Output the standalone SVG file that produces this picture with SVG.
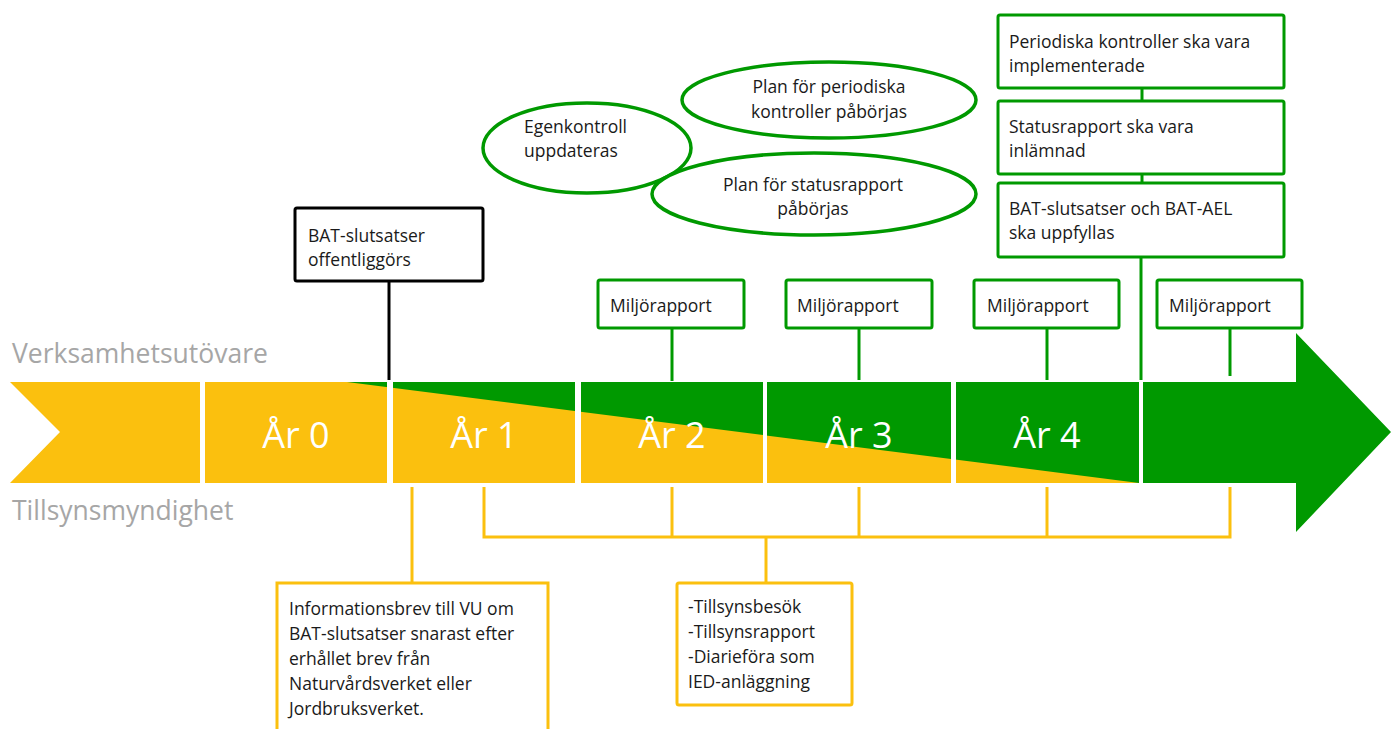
<svg xmlns="http://www.w3.org/2000/svg" width="1391" height="729" viewBox="0 0 1391 729">
<style>
text{font-family:"Open Sans","Noto Sans","Liberation Sans",sans-serif;font-size:17.5px;fill:#1a1a1a}
.yr{font-size:36px;fill:#ffffff;text-anchor:middle}
.side{font-size:26.5px;fill:#a6a6a6}
.gbox{fill:#ffffff;stroke:#009900;stroke-width:3}
.ybox{fill:#ffffff;stroke:#fbc00e;stroke-width:3}
.kbox{fill:#ffffff;stroke:#000000;stroke-width:3}
.gl{stroke:#009900;stroke-width:3;fill:none}
.yl{stroke:#fbc00e;stroke-width:3;fill:none}
.kl{stroke:#000000;stroke-width:3;fill:none}
.ell{fill:#ffffff;stroke:#009900;stroke-width:3.5}
.mid{text-anchor:middle}
</style>
<defs>
<clipPath id="barclip">
<rect x="205" y="382" width="182" height="101"/>
<rect x="393" y="382" width="182" height="101"/>
<rect x="581" y="382" width="182" height="101"/>
<rect x="767" y="382" width="184" height="101"/>
<rect x="956" y="382" width="183" height="101"/>
</clipPath>
</defs>
<g id="timeline">
<polygon points="10,382 200,382 200,483 10,483 60,432" fill="#fbc00e"/>
<g clip-path="url(#barclip)">
<rect x="205" y="382" width="934" height="101" fill="#fbc00e"/>
<polygon points="347,382 1139,382 1139,483" fill="#009900"/>
</g>
<polygon points="1143,382 1296,382 1296,333 1391,432 1296,532 1296,483 1143,483" fill="#009900"/>
<text class="yr" x="296" y="448">År 0</text>
<text class="yr" x="484" y="448">År 1</text>
<text class="yr" x="672" y="448">År 2</text>
<text class="yr" x="859" y="448">År 3</text>
<text class="yr" x="1047" y="448">År 4</text>
</g>
<g id="labels">
<text class="side" x="12" y="363">Verksamhetsutövare</text>
<text class="side" x="12" y="520">Tillsynsmyndighet</text>
</g>
<g id="connectors">
<line class="kl" x1="389" y1="281" x2="389" y2="380"/>
<line class="gl" x1="672" y1="328" x2="672" y2="381"/>
<line class="gl" x1="859" y1="328" x2="859" y2="380"/>
<line class="gl" x1="1047" y1="328" x2="1047" y2="380"/>
<line class="gl" x1="1230" y1="328" x2="1230" y2="376"/>
<line class="gl" x1="1142" y1="88" x2="1142" y2="101"/>
<line class="gl" x1="1142" y1="174" x2="1142" y2="183"/>
<line class="gl" x1="1141" y1="257" x2="1141" y2="380"/>
<line class="yl" x1="412" y1="487" x2="412" y2="583"/>
<polyline class="yl" points="484,487 484,537 1230,537 1230,487"/>
<line class="yl" x1="672" y1="487" x2="672" y2="537"/>
<line class="yl" x1="859" y1="487" x2="859" y2="537"/>
<line class="yl" x1="1047" y1="487" x2="1047" y2="537"/>
<line class="yl" x1="766" y1="537" x2="766" y2="583"/>
</g>
<g id="bat-offentliggors">
<rect class="kbox" x="295" y="208" width="188" height="73" rx="2"/>
<text x="308" y="242">BAT-slutsatser</text>
<text x="308" y="266">offentliggörs</text>
</g>
<g id="egenkontroll">
<ellipse class="ell" cx="587" cy="148" rx="104" ry="45"/>
<text x="524" y="133">Egenkontroll</text>
<text x="524" y="157">uppdateras</text>
</g>
<g id="plan-periodiska">
<ellipse class="ell" cx="829" cy="100" rx="147" ry="38"/>
<text class="mid" x="829" y="93">Plan för periodiska</text>
<text class="mid" x="829" y="118">kontroller påbörjas</text>
</g>
<g id="plan-statusrapport">
<ellipse class="ell" cx="814" cy="194" rx="162" ry="41"/>
<text class="mid" x="813" y="191">Plan för statusrapport</text>
<text class="mid" x="813" y="215">påbörjas</text>
</g>
<g id="periodiska-implementerade">
<rect class="gbox" x="998" y="15" width="286" height="73" rx="2"/>
<text x="1009" y="48">Periodiska kontroller ska vara</text>
<text x="1009" y="72">implementerade</text>
</g>
<g id="statusrapport-inlamnad">
<rect class="gbox" x="998" y="101" width="286" height="73" rx="2"/>
<text x="1009" y="133">Statusrapport ska vara</text>
<text x="1009" y="157">inlämnad</text>
</g>
<g id="bat-uppfyllas">
<rect class="gbox" x="998" y="183" width="286" height="74" rx="2"/>
<text x="1009" y="215">BAT-slutsatser och BAT-AEL</text>
<text x="1009" y="239">ska uppfyllas</text>
</g>
<g id="miljorapport-1">
<rect class="gbox" x="598" y="280" width="146" height="48" rx="2"/>
<text x="610" y="312">Miljörapport</text>
</g>
<g id="miljorapport-2">
<rect class="gbox" x="786" y="280" width="146" height="48" rx="2"/>
<text x="797" y="312">Miljörapport</text>
</g>
<g id="miljorapport-3">
<rect class="gbox" x="974" y="280" width="145" height="48" rx="2"/>
<text x="987" y="312">Miljörapport</text>
</g>
<g id="miljorapport-4">
<rect class="gbox" x="1157" y="280" width="145" height="48" rx="2"/>
<text x="1169" y="312">Miljörapport</text>
</g>
<g id="informationsbrev">
<path class="ybox" d="M277,735 L277,583 L548,583 L548,735"/>
<text x="289" y="615">Informationsbrev till VU om</text>
<text x="289" y="640">BAT-slutsatser snarast efter</text>
<text x="289" y="665">erhållet brev från</text>
<text x="289" y="690">Naturvårdsverket eller</text>
<text x="289" y="715">Jordbruksverket.</text>
</g>
<g id="tillsyn">
<rect class="ybox" x="677" y="583" width="175" height="122" rx="2"/>
<text x="688" y="613">-Tillsynsbesök</text>
<text x="688" y="638">-Tillsynsrapport</text>
<text x="688" y="663">-Diarieföra som</text>
<text x="688" y="688">IED-anläggning</text>
</g>
</svg>
